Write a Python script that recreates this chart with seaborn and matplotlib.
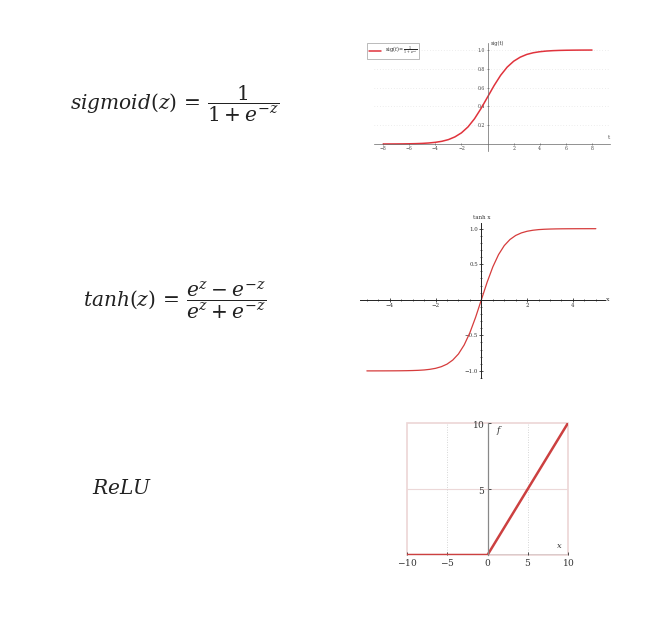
import matplotlib
matplotlib.use("Agg")
import matplotlib.pyplot as plt
import seaborn as sns
from matplotlib.ticker import MultipleLocator

# ---------------- data ----------------
sig_t = [-8.0, -7.5, -7.0, -6.5, -6.0, -5.5, -5.0, -4.5, -4.0, -3.5, -3.0, -2.5,
         -2.0, -1.5, -1.0, -0.5, 0.0, 0.5, 1.0, 1.5, 2.0, 2.5, 3.0, 3.5, 4.0,
         4.5, 5.0, 5.5, 6.0, 6.5, 7.0, 7.5, 8.0]
sig_y = [0.0003, 0.0006, 0.0009, 0.0015, 0.0025, 0.0041, 0.0067, 0.011, 0.018,
         0.029, 0.047, 0.076, 0.119, 0.182, 0.269, 0.378, 0.5, 0.622, 0.731,
         0.818, 0.881, 0.924, 0.953, 0.971, 0.982, 0.989, 0.9933, 0.9959,
         0.9975, 0.9985, 0.9991, 0.9994, 0.9997]
sig_xticks = [-8, -6, -4, -2, 2, 4, 6, 8]
sig_yticks = [0.2, 0.4, 0.6, 0.8, 1.0]

tanh_x = [-5.0, -4.75, -4.5, -4.25, -4.0, -3.75, -3.5, -3.25, -3.0, -2.75, -2.5,
          -2.25, -2.0, -1.75, -1.5, -1.25, -1.0, -0.75, -0.5, -0.25, 0.0, 0.25,
          0.5, 0.75, 1.0, 1.25, 1.5, 1.75, 2.0, 2.25, 2.5, 2.75, 3.0, 3.25, 3.5,
          3.75, 4.0, 4.25, 4.5, 4.75, 5.0]
tanh_y = [-1.0, -1.0, -0.9998, -0.9996, -0.9993, -0.9989, -0.9982, -0.997,
          -0.995, -0.992, -0.987, -0.978, -0.964, -0.941, -0.905, -0.848,
          -0.762, -0.635, -0.462, -0.245, 0.0, 0.245, 0.462, 0.635, 0.762,
          0.848, 0.905, 0.941, 0.964, 0.978, 0.987, 0.992, 0.995, 0.997,
          0.9982, 0.9989, 0.9993, 0.9996, 0.9998, 1.0, 1.0]
tanh_xticks = [-4, -2, 2, 4]
tanh_yticks = [-1.0, -0.5, 0.5, 1.0]

relu_x = [-10, 0, 10]
relu_y = [0, 0, 10]
relu_xticks = [-10, -5, 0, 5, 10]
relu_yticks = [5, 10]

# ---------------- style ----------------
sns.set_style("white")
plt.rcParams["font.family"] = ["DejaVu Serif", "DejaVu Sans"]
plt.rcParams["mathtext.fontset"] = "dejavuserif"

W, H = 649, 621
fig = plt.figure(figsize=(W / 100, H / 100), dpi=100)
fig.patch.set_facecolor("white")


def px_axes(left, top, right, bottom):
    return fig.add_axes([left / W, 1 - bottom / H, (right - left) / W, (bottom - top) / H])


# ---------------- formulas ----------------
fcol = "#222222"
fig.text(70 / W, 1 - 104 / H, r"$sigmoid(z)\,=\,\dfrac{1}{1 + e^{-z}}$",
         fontsize=14.5, ha="left", va="center", color=fcol)
fig.text(83 / W, 1 - 300 / H, r"$tanh(z)\,=\,\dfrac{e^{z} - e^{-z}}{e^{z} + e^{-z}}$",
         fontsize=14.5, ha="left", va="center", color=fcol)
fig.text(92 / W, 1 - 488 / H, r"$ReLU$", fontsize=14.5, ha="left", va="center",
         color=fcol)

# ---------------- sigmoid ----------------
ax1 = px_axes(374, 42.5, 610.3, 150.6)
sns.lineplot(x=sig_t, y=sig_y, ax=ax1, color="#e0333c", lw=1.1,
             label=r"$\mathrm{sig}(t)=\frac{1}{1+e^{-t}}$")
ax1.set_xlim(-8.7, 9.4)
ax1.set_ylim(-0.07, 1.08)
for s in ["top", "right"]:
    ax1.spines[s].set_visible(False)
ax1.spines["left"].set_position(("data", 0))
ax1.spines["bottom"].set_position(("data", 0))
for s in ["left", "bottom"]:
    ax1.spines[s].set_color("#666666")
    ax1.spines[s].set_linewidth(0.5)
ax1.set_xticks(sig_xticks)
ax1.set_xticklabels([f"{v:g}".replace("-", "\u2212") for v in sig_xticks])
ax1.set_yticks(sig_yticks)
ax1.set_yticklabels([f"{v:.1f}" for v in sig_yticks])
ax1.tick_params(axis="both", labelsize=3.3, length=1.5, width=0.4, pad=1,
                colors="#444444", left=True, bottom=True, direction="inout")
ax1.yaxis.grid(True, linestyle=(0, (1, 3)), color="#dcdcdc", lw=0.5)
ax1.set_facecolor("none")
ax1.text(9.3, 0.04, "t", fontsize=4, ha="center", va="bottom", color="#444444")
ax1.text(0.25, 1.07, "sig(t)", fontsize=3.6, ha="left", va="center", color="#444444")
leg = ax1.legend(loc="upper left", bbox_to_anchor=(367 / W, 1 - 43 / H),
                 bbox_transform=fig.transFigure, fontsize=3.5, frameon=True,
                 fancybox=False, edgecolor="#888888", handlelength=2.5,
                 borderpad=0.4, borderaxespad=0)
leg.get_frame().set_linewidth(0.5)

# ---------------- tanh ----------------
ax2 = px_axes(360, 223, 605, 378)
sns.lineplot(x=tanh_x, y=tanh_y, ax=ax2, color="#d63c3c", lw=0.9)
ax2.set_xlim(-5.3, 5.4)
ax2.set_ylim(-1.1, 1.08)
for s in ["top", "right"]:
    ax2.spines[s].set_visible(False)
ax2.spines["left"].set_position(("data", 0))
ax2.spines["bottom"].set_position(("data", 0))
for s in ["left", "bottom"]:
    ax2.spines[s].set_color("#222222")
    ax2.spines[s].set_linewidth(0.7)
ax2.set_xticks(tanh_xticks)
ax2.set_xticklabels([f"{v:g}".replace("-", "\u2212") for v in tanh_xticks])
ax2.set_yticks(tanh_yticks)
ax2.set_yticklabels([f"{v:.1f}".replace("-", "\u2212") for v in tanh_yticks])
ax2.xaxis.set_minor_locator(MultipleLocator(0.5))
ax2.yaxis.set_minor_locator(MultipleLocator(0.1))
ax2.tick_params(axis="both", which="major", labelsize=4, length=3, width=0.6,
                pad=1, colors="#333333", left=True, bottom=True, direction="inout")
ax2.tick_params(axis="both", which="minor", length=1.8, width=0.5,
                left=True, bottom=True, direction="inout", colors="#333333")
ax2.set_facecolor("none")
ax2.text(5.45, 0.0, "x", fontsize=4.5, ha="left", va="center", color="#333333",
         clip_on=False)
ax2.text(0.0, 1.12, "tanh x", fontsize=4, ha="center", va="bottom", color="#333333",
         clip_on=False)

# ---------------- ReLU ----------------
ax3 = px_axes(407, 423, 568, 555)
ax3.set_xlim(-10, 10)
ax3.set_ylim(0, 10)
ax3.axhline(5, color="#ecd8d8", lw=0.8, zorder=0)
ax3.axvline(-5, color="#c8c8c8", lw=0.6, ls=(0, (1, 2)), zorder=0)
ax3.axvline(5, color="#c8c8c8", lw=0.6, ls=(0, (1, 2)), zorder=0)
sns.lineplot(x=relu_x, y=relu_y, ax=ax3, color="#cc4040", lw=1.8)
for s in ["top", "right", "bottom"]:
    ax3.spines[s].set_visible(False)
ax3.spines["left"].set_position(("data", 0))
ax3.spines["left"].set_color("#888888")
ax3.spines["left"].set_linewidth(0.9)
ax3.axhline(0, color="#555555", lw=0.9, zorder=1)
ax3.patch.set_edgecolor("#ecd6d6")
ax3.patch.set_linewidth(1.2)
ax3.set_xticks(relu_xticks)
ax3.set_xticklabels([f"${v}$" for v in relu_xticks])
ax3.set_yticks(relu_yticks)
ax3.set_yticklabels([f"${v}$" for v in relu_yticks])
ax3.tick_params(axis="x", which="major", labelsize=6.5, length=2, width=0.6,
                pad=1.5, colors="#333333", bottom=True, direction="in")
ax3.tick_params(axis="y", which="major", labelsize=6.5, length=2, width=0.6,
                pad=1.5, colors="#333333", left=True, direction="in")
ax3.text(9.3, 0.35, r"$x$", fontsize=6, ha="right", va="bottom", color="#333333")
ax3.text(1.0, 9.4, r"$f$", fontsize=6.5, ha="left", va="center", color="#333333")

fig.savefig("out.png", dpi=100, facecolor="white")
